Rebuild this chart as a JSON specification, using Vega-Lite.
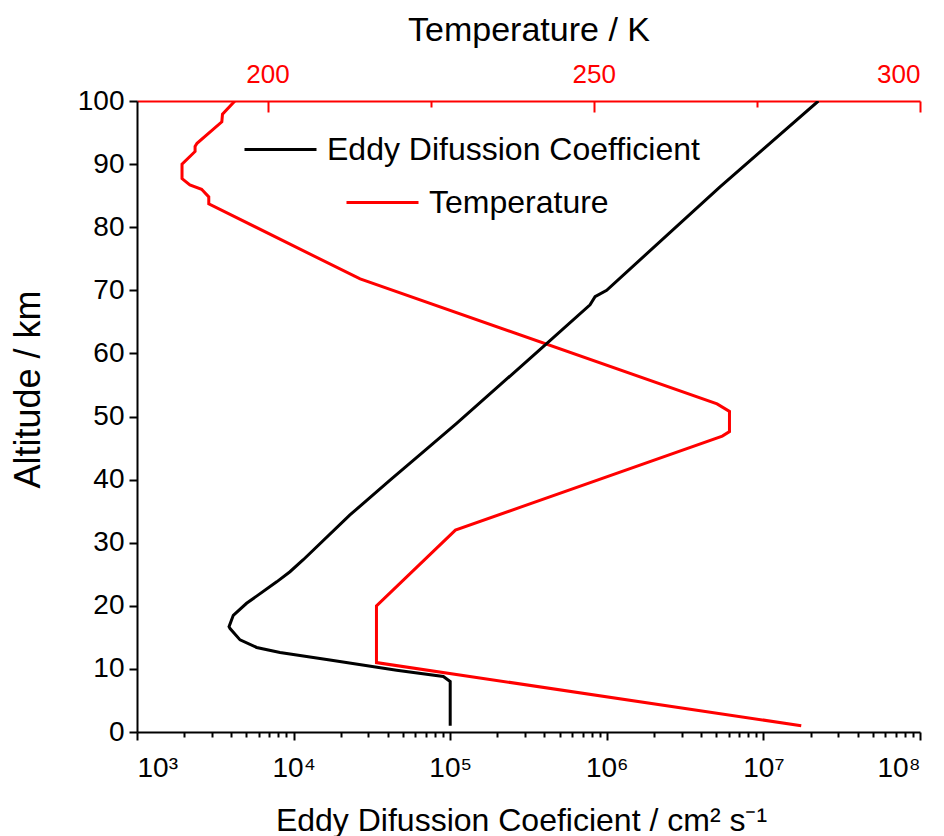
{
  "$schema": "https://vega.github.io/schema/vega-lite/v6.json",
  "width": 783,
  "height": 631,
  "autosize": "none",
  "padding": {"left": 137, "top": 101, "right": 24, "bottom": 104},
  "background": "white",
  "view": {"stroke": null},
  "config": {
    "font": "Liberation Sans",
    "axis": {"grid": false, "labelFont": "Liberation Sans", "titleFont": "Liberation Sans", "titleFontWeight": "normal", "labelFontSize": 26, "titleFontSize": 34, "domainWidth": 2, "tickWidth": 2},
    "legend": {"labelFont": "Liberation Sans"}
  },
  "datasets": {
    "eddy": [
      {"alt": 1, "K": 100000},
      {"alt": 8, "K": 100000},
      {"alt": 8.8, "K": 90400},
      {"alt": 9.8, "K": 45500},
      {"alt": 11.4, "K": 17060},
      {"alt": 12.6, "K": 8190},
      {"alt": 13.4, "K": 5810},
      {"alt": 14.6, "K": 4550},
      {"alt": 16.4, "K": 3930},
      {"alt": 16.7, "K": 3870},
      {"alt": 18.5, "K": 4120},
      {"alt": 20.4, "K": 5010},
      {"alt": 23.8, "K": 7800},
      {"alt": 25.4, "K": 9480},
      {"alt": 27.3, "K": 11530},
      {"alt": 34.4, "K": 22900},
      {"alt": 39.9, "K": 41300},
      {"alt": 44.4, "K": 67300},
      {"alt": 48.9, "K": 109900},
      {"alt": 55.0, "K": 208000},
      {"alt": 61.3, "K": 402700},
      {"alt": 67.7, "K": 781600},
      {"alt": 69.0, "K": 841400},
      {"alt": 70.0, "K": 998000},
      {"alt": 86.4, "K": 5284000},
      {"alt": 100, "K": 22440000}
    ],
    "temp": [
      {"alt": 1, "T": 281.8},
      {"alt": 11.0, "T": 216.7},
      {"alt": 20.0, "T": 216.7},
      {"alt": 32.0, "T": 228.8},
      {"alt": 46.9, "T": 269.7},
      {"alt": 47.6, "T": 270.8},
      {"alt": 50.8, "T": 270.8},
      {"alt": 52.0, "T": 268.9},
      {"alt": 71.8, "T": 214.2},
      {"alt": 83.7, "T": 191.0},
      {"alt": 84.8, "T": 191.0},
      {"alt": 86.0, "T": 189.9},
      {"alt": 86.7, "T": 188.1},
      {"alt": 87.7, "T": 186.9},
      {"alt": 90.0, "T": 186.9},
      {"alt": 92.0, "T": 188.9},
      {"alt": 92.8, "T": 188.9},
      {"alt": 93.3, "T": 189.2},
      {"alt": 96.7, "T": 193.0},
      {"alt": 97.9, "T": 193.1},
      {"alt": 100, "T": 195.0}
    ]
  },
  "layer": [
    {
      "data": {"name": "temp"},
      "mark": {"type": "line", "strokeWidth": 3, "clip": true},
      "encoding": {
        "x": {
          "field": "T", "type": "quantitative",
          "scale": {"domain": [180, 300], "nice": false, "zero": false},
          "axis": {
            "orient": "top", "title": "Temperature / K",
            "values": [200, 225, 250, 275, 300],
            "labelExpr": "datum.value % 50 == 0 ? datum.label : ''",
            "domainColor": "#ff0000", "tickColor": "#ff0000", "labelColor": "#ff0000",
            "tickSize": {"condition": {"test": "datum.value % 50 == 0", "value": -11}, "value": -6},
            "labelPadding": 25, "titlePadding": 14, "titleColor": "black"
          }
        },
        "y": {
          "field": "alt", "type": "quantitative",
          "scale": {"domain": [0, 100], "nice": false},
          "axis": {
            "title": "Altitude / km", "titleFontSize": 36, "labelFontSize": 28, "titleY": 288,
            "values": [0,5,10,15,20,25,30,35,40,45,50,55,60,65,70,75,80,85,90,95,100],
            "labelExpr": "datum.value % 10 == 0 ? datum.label : ''",
            "tickSize": {"condition": {"test": "datum.value % 10 == 0", "value": 8}, "value": 4},
            "domainColor": "black", "tickColor": "black", "labelColor": "black",
            "labelPadding": 5, "titlePadding": 30
          }
        },
        "order": {"field": "alt", "type": "quantitative"},
        "stroke": {
          "datum": "Temperature",
          "scale": {"domain": ["Temperature"], "range": ["#ff0000"]},
          "legend": {"orient": "none", "legendX": 208, "legendY": 64, "title": null, "symbolType": "stroke", "symbolSize": 5184, "symbolStrokeWidth": 3, "labelFontSize": 32, "labelOffset": 9, "labelLimit": 600}
        }
      }
    },
    {
      "data": {"name": "eddy"},
      "mark": {"type": "line", "strokeWidth": 3, "clip": true},
      "encoding": {
        "x": {
          "field": "K", "type": "quantitative",
          "scale": {"type": "log", "domain": [1000, 100000000], "nice": false},
          "axis": {
            "orient": "bottom", "title": "Eddy Difussion Coeficient / cm² s⁻¹", "titleFontSize": 32, "titleX": 384,
            "values": [1000,2000,3000,4000,5000,6000,7000,8000,9000,10000,20000,30000,40000,50000,60000,70000,80000,90000,100000,200000,300000,400000,500000,600000,700000,800000,900000,1000000,2000000,3000000,4000000,5000000,6000000,7000000,8000000,9000000,10000000,20000000,30000000,40000000,50000000,60000000,70000000,80000000,90000000,100000000],
            "labelExpr": "abs(log(datum.value)/LN10 - round(log(datum.value)/LN10)) < 0.000001 ? '10' + ['³','⁴','⁵','⁶','⁷','⁸'][round(log(datum.value)/LN10) - 3] : ''",
            "labelFontSize": 28,
            "tickSize": {"condition": {"test": "abs(log(datum.value)/LN10 - round(log(datum.value)/LN10)) < 0.000001", "value": 8}, "value": 5},
            "domainColor": "black", "tickColor": "black", "labelColor": "black",
            "labelPadding": 14, "titlePadding": 23
          }
        },
        "y": {"field": "alt", "type": "quantitative", "scale": {"domain": [0, 100], "nice": false}},
        "order": {"field": "alt", "type": "quantitative"},
        "stroke": {
          "datum": "Eddy Difussion Coefficient",
          "scale": {"domain": ["Eddy Difussion Coefficient"], "range": ["black"]},
          "legend": {"orient": "none", "legendX": 106, "legendY": 11, "title": null, "symbolType": "stroke", "symbolSize": 5184, "symbolStrokeWidth": 3, "labelFontSize": 32, "labelOffset": 9, "labelLimit": 600}
        }
      }
    }
  ],
  "resolve": {"scale": {"x": "independent", "stroke": "independent"}, "axis": {"x": "independent"}, "legend": {"stroke": "independent"}}
}
